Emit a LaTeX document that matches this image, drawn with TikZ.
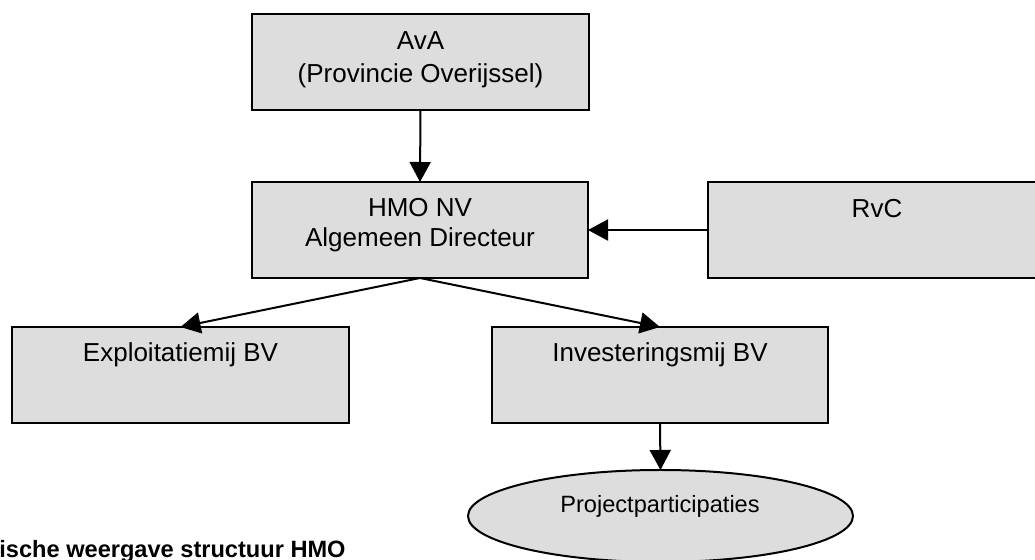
\documentclass[tikz,border=0pt]{standalone}
\usepackage{fontspec}
\setmainfont{Liberation Sans}
\usetikzlibrary{arrows.meta,shapes.geometric}
\definecolor{boxgray}{HTML}{DDDDDD}
\tikzset{
  box/.style={draw=black, line width=1pt, fill=boxgray, rectangle, inner sep=0pt, outer sep=0pt, minimum width=#1, minimum height=48pt},
  box/.default=168.5pt,
  oval/.style={draw=black, line width=1pt, fill=boxgray, ellipse, inner sep=0pt, outer sep=0pt, minimum width=192.5pt, minimum height=46pt},
  lbl/.style={anchor=base, inner sep=0pt, font=\fontsize{13}{15}\selectfont},
  slbl/.style={anchor=base, inner sep=0pt, font=\fontsize{11.8}{14}\selectfont},
  captext/.style={anchor=base west, inner sep=0pt, font=\fontsize{11.8}{14}\selectfont\bfseries},
  arr/.style={line width=1pt, -{Triangle[length=10pt, width=10.5pt]}}
}
\begin{document}
\begin{tikzpicture}[x=0.5pt, y=-0.5pt]
\clip (0,0) rectangle (1035,560);
\fill[white] (0,0) rectangle (1035,560);
% boxes
\node[box] (ava) at (420.5,62) {};
\node[box=168pt] (hmo) at (420,230) {};
\node[box=169pt] (rvc) at (877,230) {};
\node[box] (expl) at (180.5,375) {};
\node[box=168pt] (inv) at (660,375) {};
\node[oval] (proj) at (660.5,516) {};
% texts
\node[lbl] (t1) at (420.5,50) {AvA};
\node[lbl] (t2) at (420.5,83) {(Provincie Overijssel)};
\node[lbl] (t3) at (420,217) {HMO NV};
\node[lbl] (t4) at (420,247) {Algemeen Directeur};
\node[lbl] (t5) at (877,218) {RvC};
\node[lbl] (t6) at (180.5,362) {Exploitatiemij BV};
\node[lbl] (t7) at (660,362) {Investeringsmij BV};
\node[slbl] (t8) at (660,513) {Projectparticipaties};
\node[captext] (t9) at (-1,558) {ische weergave structuur HMO};
% connectors
\draw[arr] (ava.south) -- (hmo.north);
\draw[arr] (rvc.west) -- (hmo.east);
\draw[arr] (hmo.south) -- (expl.north);
\draw[arr] (hmo.south) -- (inv.north);
\draw[arr] (inv.south) -- (proj.north);
\end{tikzpicture}
\end{document}
